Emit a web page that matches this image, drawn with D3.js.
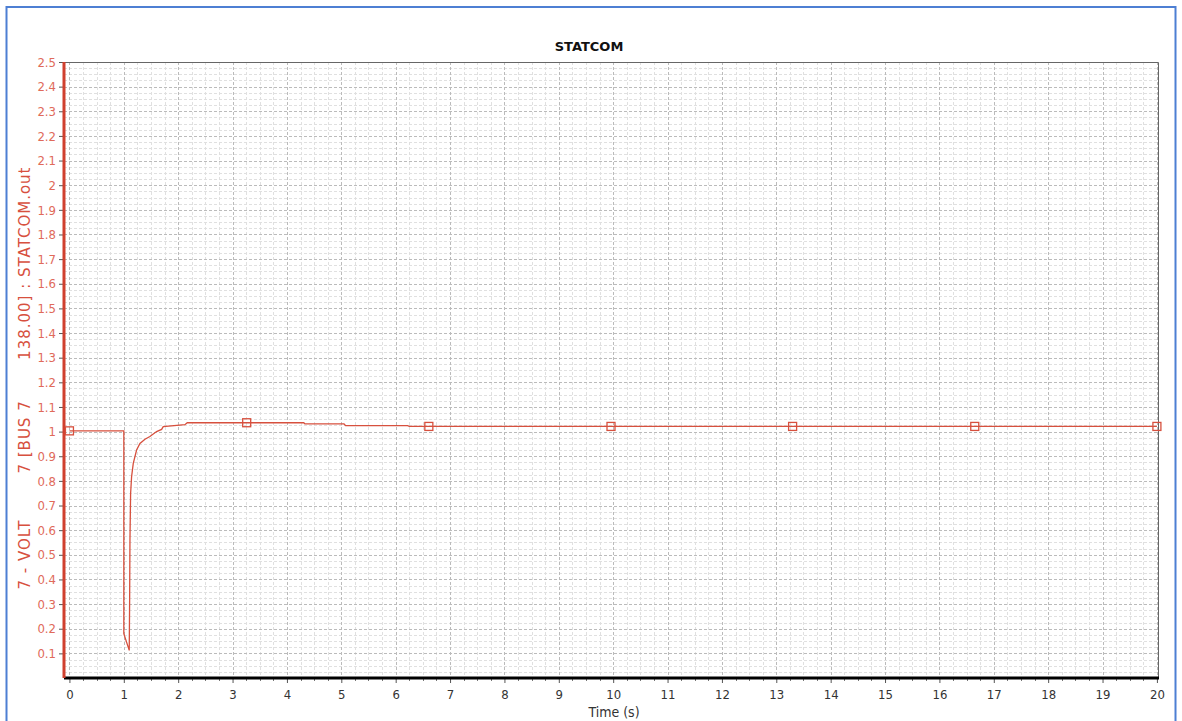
<!DOCTYPE html>
<html>
<head>
<meta charset="utf-8">
<script src="https://cdn.jsdelivr.net/npm/d3@7"></script>
<style>
  body { margin: 0; background: #fff; }
  svg { display: block; }
</style>
</head>
<body>
<svg id="chart"></svg>
<script>
// STATCOM bus voltage after fault
const time = [0, 1.0, 1.0, 1.10, 1.107, 1.113, 1.125, 1.143, 1.174, 1.235, 1.297, 1.389, 1.48,
  1.603, 1.695, 1.725, 2.124, 2.167, 4.31, 4.33, 5.05, 5.08, 6.22, 6.25, 20];
const voltage = [1.003, 1.003, 0.18, 0.112, 0.315, 0.559, 0.749, 0.817, 0.871, 0.925, 0.952, 0.969, 0.98,
  1.0, 1.009, 1.02, 1.028, 1.036, 1.036, 1.031, 1.031, 1.024, 1.024, 1.021, 1.021];
const markerTimes = [0, 3.26, 6.61, 9.96, 13.3, 16.65, 20];
const xTicks = d3.range(0, 21, 1);
const yTicks = d3.range(1, 26).map(d => d / 10);

const title = "STATCOM";
const xLabel = "Time (s)";
const yLabel = "7 - VOLT        7 [BUS 7       138.00] : STATCOM.out";

const width = 1182, height = 721;
const mLeft = 64, mRight = 1158, mTop = 62, mBottom = 678;
const red = "#d7503e";
const labelRed = "#e06a5a";
const font = "'DejaVu Sans Condensed', 'DejaVu Sans', sans-serif";
const wideFont = "'DejaVu Sans', Verdana, sans-serif";

const svg = d3.select("#chart").attr("width", width).attr("height", height);

// blue outer frame
svg.append("rect")
  .attr("x", 6.5).attr("y", 7).attr("width", 1169).attr("height", 730)
  .attr("fill", "none").attr("stroke", "#4d7fd3").attr("stroke-width", 2);

const x = d3.scaleLinear().domain([-0.1, 20.02]).range([mLeft, mRight]);
const y = d3.scaleLinear().domain([0, 2.5]).range([mBottom, mTop]);

// minor grid
const xMinor = d3.range(0, 80.5, 1).map(d => d / 4).filter(d => d % 1 !== 0);
const yMinor = d3.range(1, 101).map(d => d / 40).filter(d => Math.round(d * 40) % 4 !== 0);

const grid = svg.append("g");
grid.selectAll(".xm").data(xMinor).join("line")
  .attr("x1", d => Math.round(x(d)) + 0.5).attr("x2", d => Math.round(x(d)) + 0.5)
  .attr("y1", mTop).attr("y2", mBottom)
  .attr("stroke", "#e0e0e0").attr("stroke-dasharray", "3,2");
grid.selectAll(".ym").data(yMinor).join("line")
  .attr("x1", mLeft).attr("x2", mRight)
  .attr("y1", d => Math.round(y(d)) + 0.5).attr("y2", d => Math.round(y(d)) + 0.5)
  .attr("stroke", "#e0e0e0").attr("stroke-dasharray", "3,2");
grid.selectAll(".xM").data(xTicks).join("line")
  .attr("x1", d => Math.round(x(d)) + 0.5).attr("x2", d => Math.round(x(d)) + 0.5)
  .attr("y1", mTop).attr("y2", mBottom)
  .attr("stroke", "#bbbbbb").attr("stroke-dasharray", "3,2");
grid.selectAll(".yM").data(yTicks).join("line")
  .attr("x1", mLeft).attr("x2", mRight)
  .attr("y1", d => Math.round(y(d)) + 0.5).attr("y2", d => Math.round(y(d)) + 0.5)
  .attr("stroke", "#bbbbbb").attr("stroke-dasharray", "3,2");

// plot frame top/right
svg.append("path")
  .attr("d", `M${mLeft},${mTop + 0.5}H${mRight + 0.5}V${mBottom}`)
  .attr("fill", "none").attr("stroke", "#666");

// x axis
const xAxis = svg.append("g")
  .attr("transform", `translate(0,${mBottom})`)
  .call(d3.axisBottom(x).tickValues(xTicks).tickFormat(d3.format("d")).tickSize(5).tickPadding(7))
  .call(g => g.select(".domain").remove());
xAxis.selectAll(".tick line").attr("stroke", "#555");
xAxis.selectAll("text").attr("fill", "#333").style("font", `13px ${font}`);
xAxis.selectAll(".minor").data(xMinor).join("line")
  .attr("x1", d => Math.round(x(d)) + 0.5).attr("x2", d => Math.round(x(d)) + 0.5)
  .attr("y1", 0).attr("y2", 3).attr("stroke", "#777");
svg.append("line")
  .attr("x1", mLeft).attr("x2", mRight + 1).attr("y1", mBottom).attr("y2", mBottom)
  .attr("stroke", "#000").attr("stroke-width", 3);

// y axis
const yAxis = svg.append("g")
  .attr("transform", `translate(${mLeft},0)`)
  .call(d3.axisLeft(y).tickValues(yTicks).tickFormat(d => d === 1 || d === 2 ? d3.format("d")(d) : d3.format(".1f")(d)).tickSize(5).tickPadding(3))
  .call(g => g.select(".domain").remove());
yAxis.selectAll(".tick line").attr("stroke", "#555");
yAxis.selectAll("text").attr("fill", labelRed).style("font", `13px ${font}`);
svg.append("line")
  .attr("x1", mLeft).attr("x2", mLeft).attr("y1", mTop).attr("y2", mBottom)
  .attr("stroke", "#d0402f").attr("stroke-width", 3);

// series
const pts = time.map((t, i) => [t, voltage[i]]);
svg.append("path")
  .datum(pts)
  .attr("fill", "none").attr("stroke", red).attr("stroke-width", 1.3)
  .attr("d", d3.line().x(d => x(d[0])).y(d => y(d[1])));

// markers sit on the curve
const valueAt = t => {
  const i = d3.bisectRight(time, t) - 1;
  return voltage[Math.max(0, i)];
};
svg.selectAll(".mk").data(markerTimes).join("rect")
  .attr("x", d => x(d) - 4).attr("y", d => y(valueAt(d)) - 4)
  .attr("width", 8).attr("height", 8)
  .attr("fill", "none").attr("stroke", red).attr("stroke-width", 1.3);

// texts
svg.append("text")
  .attr("x", 589).attr("y", 51)
  .attr("text-anchor", "middle").attr("fill", "#111")
  .style("font", `bold 13px ${wideFont}`).text(title);

svg.append("text")
  .attr("x", 614).attr("y", 717)
  .attr("text-anchor", "middle").attr("fill", "#333")
  .style("font", `14px ${font}`).text(xLabel);

svg.append("text")
  .attr("transform", `translate(30,378) rotate(-90)`)
  .attr("text-anchor", "middle").attr("fill", red)
  .style("font", `15px ${wideFont}`).style("white-space", "pre")
  .style("letter-spacing", "1px")
  .text(yLabel);
</script>
</body>
</html>
